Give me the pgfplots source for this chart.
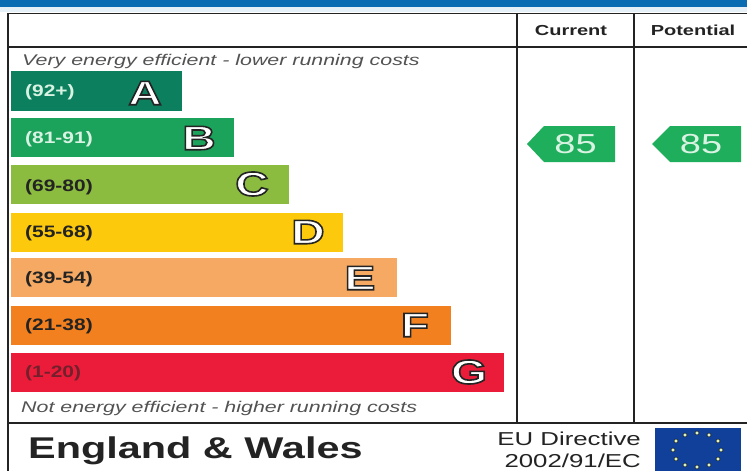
\documentclass[border=0pt]{standalone}
\usepackage{pgfplots}
\pgfplotsset{compat=1.18}
\usepackage{fontspec}
\setmainfont[FakeStretch=1.38]{Liberation Sans}
\newfontfamily\letterfont[FakeStretch=1.36]{Liberation Sans}
\newfontfamily\labelfont[FakeStretch=1.27]{Liberation Sans}
\definecolor{cA}{HTML}{0B7F5E}
\definecolor{cB}{HTML}{1BA25B}
\definecolor{cC}{HTML}{8BBB3F}
\definecolor{cD}{HTML}{FDC90C}
\definecolor{cE}{HTML}{F6A962}
\definecolor{cF}{HTML}{F3801F}
\definecolor{cG}{HTML}{EB1C3A}
\definecolor{ink}{HTML}{232323}
\definecolor{band}{HTML}{0A6CB1}
\definecolor{flag}{HTML}{10409A}
\definecolor{tag}{HTML}{1FAE5C}
\definecolor{pale}{HTML}{D9F3E3}
\newcommand{\letter}[1]{\special{pdf:code q 2 Tr 1.6 w 0.14 0.14 0.14 RG 1 1 1 rg}#1\special{pdf:code Q}}
\begin{document}
\begin{tikzpicture}[x=1pt,y=1pt]
\useasboundingbox (0,0) rectangle (747,471);
% bars: base of each bar sits at pixel x = 11
\begin{axis}[at={(0,0)},anchor=south west,scale only axis,width=747pt,height=471pt,
  xmin=-11,xmax=736,ymin=0,ymax=471,y dir=reverse,hide axis,xbar,bar width=39pt,bar shift=0pt]
\addplot[fill=cA,draw=none] coordinates {(171,91)};
\addplot[fill=cB,draw=none] coordinates {(223,137.5)};
\addplot[fill=cC,draw=none] coordinates {(278,184.5)};
\addplot[fill=cD,draw=none] coordinates {(332,232)};
\addplot[fill=cE,draw=none] coordinates {(386,277.5)};
\addplot[fill=cF,draw=none] coordinates {(440,325)};
\addplot[fill=cG,draw=none] coordinates {(493,372)};
\end{axis}
% frame, tags and text in pixel coordinates
\begin{axis}[at={(0,0)},anchor=south west,scale only axis,width=747pt,height=471pt,
  xmin=0,xmax=747,ymin=0,ymax=471,y dir=reverse,hide axis,clip=true]
\addplot[fill=band!10,draw=none] coordinates {(0,6.5)(747,6.5)(747,12)(0,12)} --cycle;
\addplot[fill=band,draw=none] coordinates {(0,0)(747,0)(747,6.5)(0,6.5)} --cycle;
\addplot[fill=flag,draw=none] coordinates {(655,428)(741,428)(741,471)(655,471)} --cycle;
\addplot[only marks,mark=*,mark size=2pt,mark options={draw=none,fill=pale!85!yellow}] coordinates {
(697,433)(709,435)(718,441)(721,450)(718,459)(709,465)(697,467)(685,465)(676,459)(673,450)(676,441)(685,435)};
\addplot[fill=tag,draw=none] coordinates {(527,144)(544,126)(615,126)(615,162)(544,162)} --cycle;
\addplot[fill=tag,draw=none] coordinates {(652,144)(670,126)(741,126)(741,162)(670,162)} --cycle;
\addplot[ink,line width=1.6pt] coordinates {(8,471)(8,13.5)(747,13.5)};
\addplot[ink,line width=1.4pt] coordinates {(8,47)(747,47)};
\addplot[ink,line width=1.6pt] coordinates {(8,423)(747,423)};
\addplot[ink,line width=1.6pt] coordinates {(517,13.5)(517,423)};
\addplot[ink,line width=1.6pt] coordinates {(634,13.5)(634,423)};
\node[anchor=center,font=\fontsize{14.5}{15}\selectfont\bfseries,text=ink] at (axis cs:571,30.5) {Current};
\node[anchor=center,font=\fontsize{14.5}{15}\selectfont\bfseries,text=ink] at (axis cs:693,30.5) {Potential};
\node[anchor=west,inner sep=0pt,font=\fontsize{15.5}{15}\selectfont\itshape,text=black!68] at (axis cs:22,61) {Very energy efficient - lower running costs};
\node[anchor=west,inner sep=0pt,font=\fontsize{15.5}{15}\selectfont\itshape,text=black!68] at (axis cs:21,408.5) {Not energy efficient - higher running costs};
\foreach \t/\y/\c in {(92+)/92/pale,(81-91)/139/pale,(69-80)/187/ink,(55-68)/233/ink,(39-54)/279/ink,(21-38)/326/ink,(1-20)/373/ink!60!cG}{
  \edef\temp{\noexpand\node[anchor=west,inner sep=0pt,font=\noexpand\labelfont\noexpand\fontsize{16.5}{16}\noexpand\selectfont\noexpand\bfseries,text=\c] at (axis cs:25,\y) {\t};}\temp
}
\node[font=\letterfont\fontsize{34}{34}\selectfont\bfseries] at (axis cs:145,93) {\letter{A}};
\node[font=\letterfont\fontsize{34}{34}\selectfont\bfseries] at (axis cs:199,138) {\letter{B}};
\node[font=\letterfont\fontsize{34}{34}\selectfont\bfseries] at (axis cs:252,184) {\letter{C}};
\node[font=\letterfont\fontsize{34}{34}\selectfont\bfseries] at (axis cs:308,232) {\letter{D}};
\node[font=\letterfont\fontsize{34}{34}\selectfont\bfseries] at (axis cs:360,278) {\letter{E}};
\node[font=\letterfont\fontsize{34}{34}\selectfont\bfseries] at (axis cs:415,325) {\letter{F}};
\node[font=\letterfont\fontsize{34}{34}\selectfont\bfseries] at (axis cs:469,372) {\letter{G}};
\node[font=\fontsize{27.5}{28}\selectfont,text=pale] at (axis cs:575.5,144) {85};
\node[font=\fontsize{27.5}{28}\selectfont,text=pale] at (axis cs:701,144) {85};
\node[anchor=west,inner sep=0pt,font=\fontsize{30}{30}\selectfont\bfseries,text=ink] at (axis cs:28,451) {England \& Wales};
\node[anchor=east,inner sep=0pt,font=\fontsize{18.7}{18}\selectfont,text=ink] at (axis cs:641,439) {EU Directive};
\node[anchor=east,inner sep=0pt,font=\fontsize{18.7}{18}\selectfont,text=ink] at (axis cs:641,461) {2002/91/EC};
\end{axis}
\end{tikzpicture}
\end{document}
